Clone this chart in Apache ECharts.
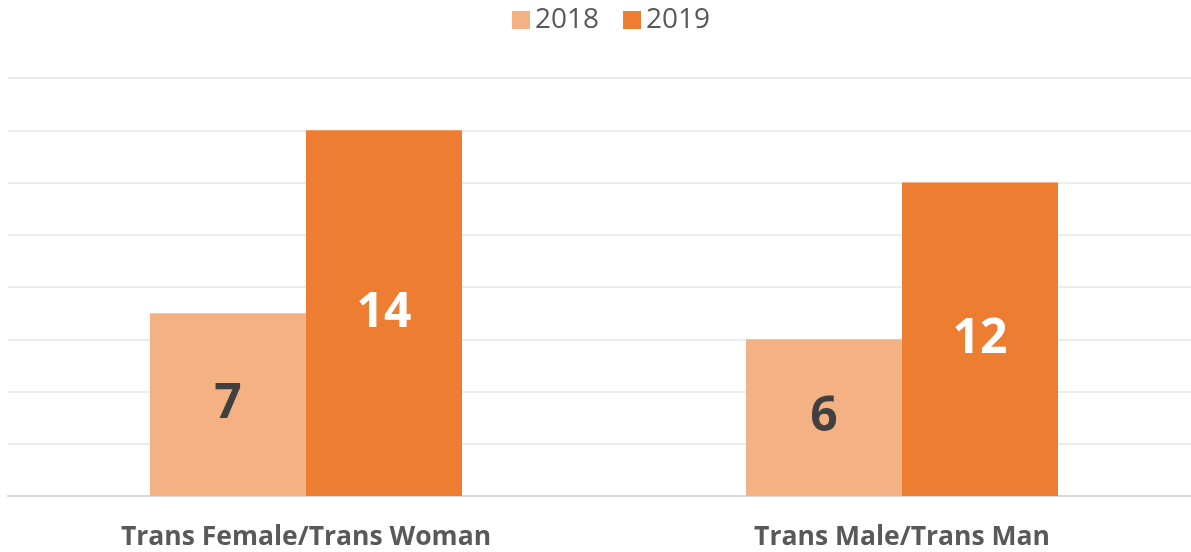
<!DOCTYPE html>
<html>
<head>
<meta charset="utf-8">
<script src="https://cdn.jsdelivr.net/npm/echarts@6/dist/echarts.min.js"></script>
<style>
  html, body { margin: 0; padding: 0; background: #fff; overflow: hidden; }
  #chart { width: 1200px; height: 552px; }
</style>
</head>
<body>
<div id="chart"></div>
<script>
// data
var categories = ['Trans Female/Trans Woman', 'Trans Male/Trans Man'];
var years = ['2018', '2019'];
var values2018 = [7, 6];
var values2019 = [14, 12];

var chart = echarts.init(document.getElementById('chart'));
var font = '"Open Sans", "Liberation Sans", sans-serif';

chart.setOption({
  animation: false,
  textStyle: { fontFamily: font },
  legend: {
    data: years,
    left: 507,
    top: 1,
    icon: 'rect',
    itemWidth: 18,
    itemHeight: 18,
    itemGap: 24,
    textStyle: { fontSize: 28, color: '#595959', fontFamily: font }
  },
  // plot area is a bit wider than the window, as in the original
  grid: {
    left: 8,
    right: 0,
    top: 78,
    bottom: 56,
    containLabel: false
  },
  xAxis: {
    type: 'category',
    data: categories,
    axisTick: { show: false },
    axisLine: { lineStyle: { color: '#d9d9d9', width: 2 } },
    axisLabel: {
      fontSize: 26.5,
      fontWeight: 'bold',
      color: '#595959',
      fontFamily: font,
      margin: 28
    }
  },
  yAxis: {
    type: 'value',
    min: 0,
    max: 16,
    interval: 2,
    axisLabel: { show: false },
    axisLine: { show: false },
    axisTick: { show: false },
    splitLine: { lineStyle: { color: '#ececec', width: 2 } }
  },
  series: [
    {
      name: '2018',
      type: 'bar',
      data: values2018,
      barWidth: 156,
      barGap: '0%',
      itemStyle: { color: '#F4B183' },
      label: {
        show: true,
        position: 'inside',
        fontSize: 48,
        fontWeight: 'bold',
        color: '#404040',
        fontFamily: font
      }
    },
    {
      name: '2019',
      type: 'bar',
      data: values2019,
      barWidth: 156,
      barGap: '0%',
      itemStyle: { color: '#ED7D31' },
      label: {
        show: true,
        position: 'inside',
        fontSize: 48,
        fontWeight: 'bold',
        color: '#ffffff',
        fontFamily: font
      }
    }
  ]
});
</script>
</body>
</html>
